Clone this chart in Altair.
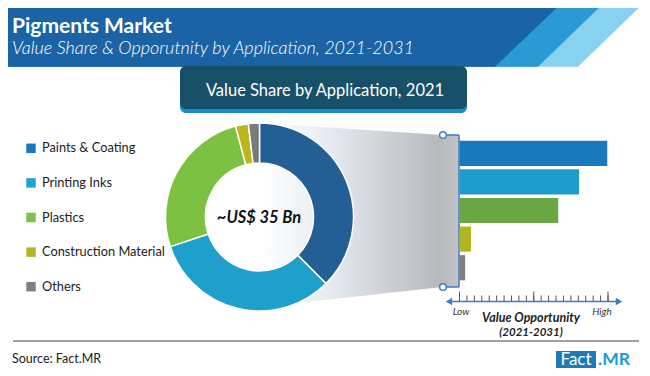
import altair as alt
import pandas as pd

# ---------------- data ----------------
categories = ["Paints & Coating", "Printing Inks", "Plastics", "Construction Material", "Others"]
share_2021 = [37.5, 32.4, 26.0, 2.2, 1.9]          # value share 2021 (%)
opportunity = [99.5, 80.5, 66.5, 7.7, 3.8]          # relative value opportunity (Low=0 .. High=100)
opp_ticks = list(range(0, 101, 5))
opp_major_ticks = [0, 50, 100]

donut_colors = ["#235f95", "#1f9fcb", "#7dc142", "#b8b81c", "#7a7a7a"]
bar_colors = ["#1a78bd", "#1e9dcc", "#6aa743", "#b4b41c", "#7f7f7f"]
legend_colors = ["#1a78bd", "#1fa3cf", "#7ec24b", "#b5b420", "#808080"]

FONT = "Lato"


def R(v):
    """reference pixel -> chart pixel (page has 8px margin)"""
    return v - 8


one = pd.DataFrame({"k": [0]})

df = pd.DataFrame({
    "category": categories,
    "share": share_2021,
    "opp": opportunity,
    "idx": list(range(len(categories))),
})

layers = []

# ---------------- header band with diagonal stripes ----------------
HB = 66.7
stripes = [
    ("#86d2f0", 647, 578),
    ("#2b9ad4", 607, 538),
    ("#1a64a5", 565, 495),
]
for col, xtop, xbot in stripes:
    sd = pd.DataFrame({"y": [R(0), R(HB)], "x0": [R(0), R(0)], "x1": [R(xtop), R(xbot)]})
    layers.append(
        alt.Chart(sd).mark_area(orient="horizontal", color=col).encode(
            y=alt.Y("y:Q", scale=None),
            x=alt.X("x0:Q", scale=None),
            x2="x1:Q",
        )
    )

layers.append(
    alt.Chart(one).mark_text(text="Pigments Market", font=FONT, fontSize=21, fontWeight="bold",
                             color="white", align="left", baseline="alphabetic").encode(
        x=alt.value(R(12)), y=alt.value(R(33)))
)
layers.append(
    alt.Chart(one).mark_text(text="Value Share & Opporutnity by Application, 2021-2031", font=FONT,
                             fontSize=18, fontStyle="italic", fontWeight=300,
                             color="white", align="left", baseline="alphabetic").encode(
        x=alt.value(R(12)), y=alt.value(R(54)))
)

# ---------------- sub-title box ----------------
layers.append(
    alt.Chart(one).mark_rect(color="#1c8dc4", cornerRadius=6).encode(
        x=alt.value(R(180)), x2=alt.value(R(467)), y=alt.value(R(68)), y2=alt.value(R(113)))
)
layers.append(
    alt.Chart(one).mark_rect(color="#184f69", cornerRadius=6).encode(
        x=alt.value(R(180)), x2=alt.value(R(467)), y=alt.value(R(66)), y2=alt.value(R(109)))
)
layers.append(
    alt.Chart(one).mark_text(text="Value Share by Application, 2021", font=FONT, fontSize=16.5,
                             color="white", align="center", baseline="middle").encode(
        x=alt.value(R(325)), y=alt.value(R(91)))
)

# ---------------- custom legend ----------------
leg_scale = alt.Scale(domain=categories, range=[R(148.3), R(286.7)], padding=0)
legend_base = alt.Chart(df).encode(
    y=alt.Y("category:N", scale=leg_scale, axis=None),
)
layers.append(
    legend_base.mark_square(size=90, opacity=1).encode(
        x=alt.value(R(31)),
        color=alt.Color("category:N", scale=alt.Scale(domain=categories, range=legend_colors), legend=None),
    )
)
layers.append(
    legend_base.mark_text(font=FONT, fontSize=12.8, color="#222222", align="left", baseline="middle").encode(
        x=alt.value(R(42)),
        text="category:N",
    )
)

# ---------------- funnel gradient ----------------
funnel = pd.DataFrame({
    "x": [R(260), R(443), R(459)],
    "ytop": [R(123), R(135), R(135)],
    "ybot": [R(307), R(287), R(287)],
})
grad = alt.Gradient(
    gradient="linear",
    stops=[
        alt.GradientStop(color="#ffffff", offset=0),
        alt.GradientStop(color="#e6ebf1", offset=0.35),
        alt.GradientStop(color="#b6b9bd", offset=0.9),
        alt.GradientStop(color="#c2c4c7", offset=1),
    ],
    x1=0, x2=1, y1=0, y2=0,
)
layers.append(
    alt.Chart(funnel).mark_area(color=grad, orient="vertical").encode(
        x=alt.X("x:Q", scale=None),
        y=alt.Y("ytop:Q", scale=None),
        y2="ybot:Q",
    )
)

# ---------------- donut ----------------
layers.append(
    alt.Chart(df).mark_arc(innerRadius=54, outerRadius=94, stroke="white", strokeWidth=1.5).encode(
        theta=alt.Theta("share:Q", stack=True),
        order=alt.Order("idx:Q", sort="ascending"),
        color=alt.Color("category:N", scale=alt.Scale(domain=categories, range=donut_colors), legend=None),
        x=alt.value(R(259.5)),
        y=alt.value(R(217)),
    )
)
layers.append(
    alt.Chart(one).mark_text(text="~US$ 35 Bn", font=FONT, fontSize=16.5, fontWeight="bold",
                             fontStyle="italic", color="#111111", align="center", baseline="middle").encode(
        x=alt.value(R(259)), y=alt.value(R(218)))
)

# ---------------- bracket ----------------
BL = "#3d7cc0"
layers.append(alt.Chart(one).mark_rule(color=BL, strokeWidth=1.5).encode(
    x=alt.value(R(443)), x2=alt.value(R(459)), y=alt.value(R(135))))
layers.append(alt.Chart(one).mark_rule(color=BL, strokeWidth=1.5).encode(
    x=alt.value(R(443)), x2=alt.value(R(459)), y=alt.value(R(287))))
layers.append(alt.Chart(one).mark_rule(color=BL, strokeWidth=1.5).encode(
    x=alt.value(R(459)), y=alt.value(R(135)), y2=alt.value(R(287))))
for yy in (135, 287):
    layers.append(alt.Chart(one).mark_circle(size=45, color="white", opacity=1, stroke=BL, strokeWidth=1.5).encode(
        x=alt.value(R(443)), y=alt.value(R(yy))))

# ---------------- bars ----------------
x_opp = alt.Scale(domain=[0, 100], range=[R(459.5), R(608)])
layers.append(
    alt.Chart(df).mark_bar().encode(
        y=alt.Y("category:N", sort=categories,
                scale=alt.Scale(domain=categories, range=[R(139), R(282)], paddingInner=0.12, paddingOuter=0.06),
                axis=None),
        x=alt.X("opp:Q", scale=x_opp, axis=None),
        color=alt.Color("category:N", scale=alt.Scale(domain=categories, range=bar_colors), legend=None),
    )
)

# ---------------- opportunity axis ----------------
AY = 301.5
layers.append(alt.Chart(one).mark_rule(color=BL, strokeWidth=1.5).encode(
    x=alt.value(R(448)), x2=alt.value(R(620)), y=alt.value(R(AY))))
layers.append(alt.Chart(one).mark_point(shape="triangle-left", filled=True, size=55, color=BL, opacity=1).encode(
    x=alt.value(R(449)), y=alt.value(R(AY))))
layers.append(alt.Chart(one).mark_point(shape="triangle-right", filled=True, size=55, color=BL, opacity=1).encode(
    x=alt.value(R(619)), y=alt.value(R(AY))))
layers.append(
    alt.Chart(pd.DataFrame({"t": opp_ticks})).mark_rule(color="#555555", strokeWidth=1).encode(
        x=alt.X("t:Q", scale=x_opp, axis=None), y=alt.value(R(AY - 0.5)), y2=alt.value(R(AY - 6)))
)
layers.append(
    alt.Chart(pd.DataFrame({"t": opp_major_ticks})).mark_rule(color="#555555", strokeWidth=1).encode(
        x=alt.X("t:Q", scale=x_opp, axis=None), y=alt.value(R(AY - 0.5)), y2=alt.value(R(AY - 10)))
)
layers.append(alt.Chart(one).mark_text(text="Low", font=FONT, fontSize=10, fontStyle="italic", color="#333333",
                                       align="center", baseline="middle").encode(
    x=alt.value(R(461)), y=alt.value(R(312))))
layers.append(alt.Chart(one).mark_text(text="High", font=FONT, fontSize=10, fontStyle="italic", color="#333333",
                                       align="center", baseline="middle").encode(
    x=alt.value(R(602)), y=alt.value(R(312))))
layers.append(alt.Chart(one).mark_text(text="Value Opportunity", font=FONT, fontSize=12.5, fontStyle="italic",
                                       fontWeight="bold", color="#222222", align="center", baseline="middle").encode(
    x=alt.value(R(531)), y=alt.value(R(318))))
layers.append(alt.Chart(one).mark_text(text="(2021-2031)", font=FONT, fontSize=11.5, fontStyle="italic",
                                       fontWeight="bold", color="#222222", align="center", baseline="middle").encode(
    x=alt.value(R(531)), y=alt.value(R(333))))

# ---------------- footer ----------------
layers.append(alt.Chart(one).mark_rule(color="#444444", strokeWidth=1).encode(
    x=alt.value(R(13)), x2=alt.value(R(639)), y=alt.value(R(341))))
layers.append(alt.Chart(one).mark_text(text="Source: Fact.MR", font=FONT, fontSize=12.5, color="#222222",
                                       align="left", baseline="middle").encode(
    x=alt.value(R(12)), y=alt.value(R(359))))
layers.append(alt.Chart(one).mark_rect(color="#1e7ab5").encode(
    x=alt.value(R(556)), x2=alt.value(R(596)), y=alt.value(R(351)), y2=alt.value(R(368))))
layers.append(alt.Chart(one).mark_text(text="Fact", font=FONT, fontSize=17, color="white",
                                       align="center", baseline="middle").encode(
    x=alt.value(R(576)), y=alt.value(R(359.5))))
layers.append(alt.Chart(one).mark_text(text=".MR", font=FONT, fontSize=17.5, fontWeight="bold", color="#1a9ad6",
                                       align="center", baseline="middle").encode(
    x=alt.value(R(614)), y=alt.value(R(359.5))))

chart = (
    alt.layer(*layers)
    .resolve_scale(x="independent", y="independent", color="independent", theta="independent")
    .properties(width=634, height=360, autosize=alt.AutoSizeParams(type="none"), padding=0,
                background="white")
    .configure_view(stroke=None)
)

chart.save("out.html", embed_options={"renderer": "svg", "actions": False})
